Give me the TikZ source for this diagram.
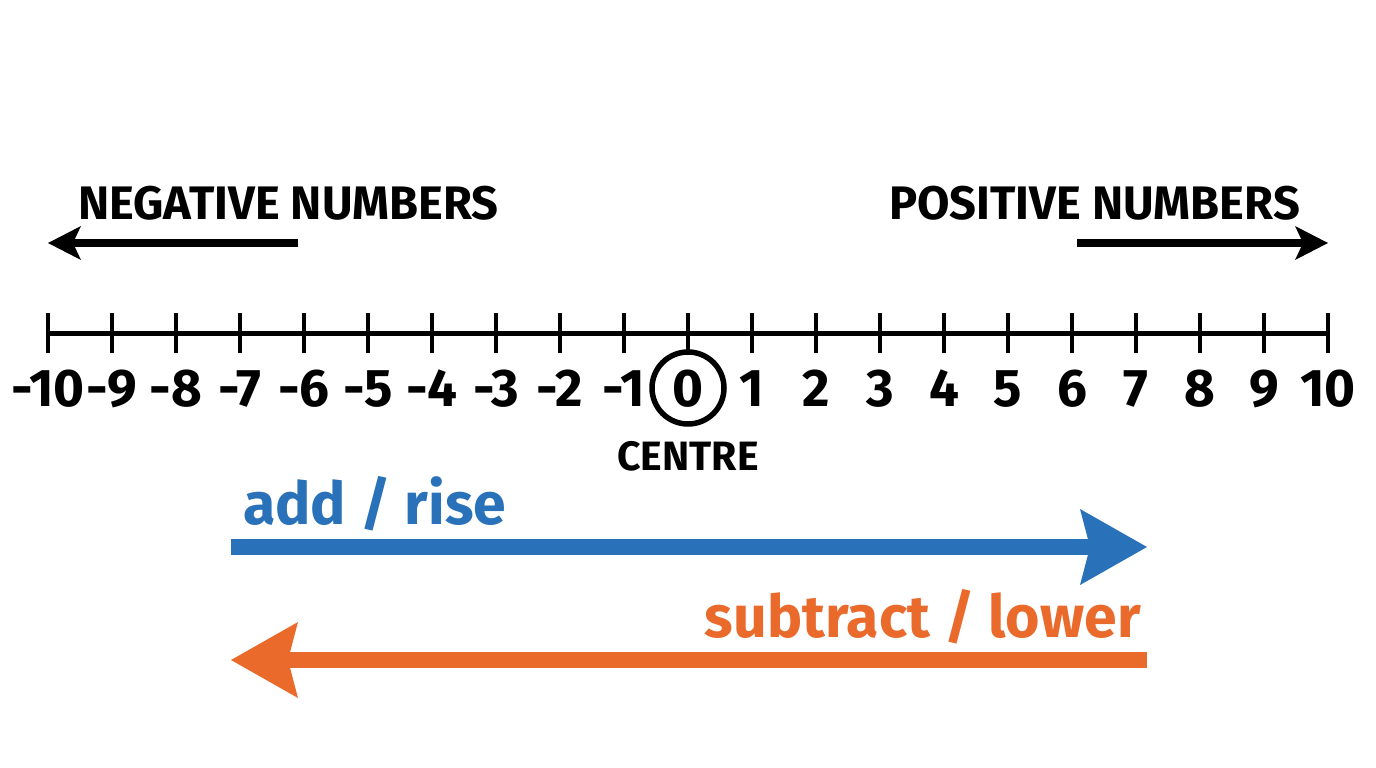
\documentclass[tikz,border=0pt]{standalone}
\usepackage{fontspec}
\setmainfont{Fira Sans}
\usepackage{tikz}
\usetikzlibrary{arrows.meta,positioning,calc}
\definecolor{addblue}{RGB}{41,113,184}
\definecolor{suborange}{RGB}{234,106,44}
\tikzstyle{axis}=[line width=5pt]
\tikzstyle{tick}=[line width=4pt]
\tikzstyle{numlabel}=[anchor=base,inner sep=0pt,font=\fontsize{53}{63}\selectfont\bfseries]
\tikzstyle{ring}=[draw,circle,line width=5.5pt,minimum size=72pt,inner sep=0pt]
\tikzstyle{headlabel}=[anchor=base,inner sep=0pt,font=\fontsize{47}{56}\selectfont\bfseries]
\tikzstyle{centrelabel}=[anchor=base,inner sep=0pt,font=\fontsize{41}{48}\selectfont\bfseries]
\tikzstyle{sidearrow}=[line width=8pt,-{Stealth[length=33pt,width=34pt,inset=8pt,line width=0pt]}]
\tikzstyle{bigarrow}=[line width=16pt,-{Stealth[length=67pt,width=76pt,inset=10pt,line width=0pt]}]
\tikzstyle{colourlabel}=[inner sep=0pt,font=\fontsize{59}{70}\selectfont\bfseries]

\begin{document}
\begin{tikzpicture}[x=1pt,y=-1pt]
    \useasboundingbox (0,0) rectangle (1376,768);
    % number line
    \coordinate (lineleft) at (48,333);
    \coordinate (lineright) at (1328,333);
    \draw [axis] (lineleft) -- (lineright);
    \foreach \n in {-10,...,10} {
      \coordinate (tickup\n) at ({688+64*(\n)},313);
      \coordinate (tickdown\n) at ({688+64*(\n)},353);
      \draw [tick] (tickup\n) -- (tickdown\n);
      \node [numlabel] (num\n) at ({688+64*(\n)},406) {\n};
    }
    \node [ring] (ring) at (688,388) {};
    \node [centrelabel] (centre) at (688,470) {CENTRE};
    % direction headings
    \node [headlabel] (neglabel) at (288.5,219) {NEGATIVE NUMBERS};
    \node [headlabel] (poslabel) at (1094.5,219) {POSITIVE NUMBERS};
    \coordinate (negstart) at (298,243);
    \coordinate (negend) at (48,243);
    \draw [sidearrow] (negstart) -- (negend);
    \coordinate (posstart) at (1077,243);
    \coordinate (posend) at (1328,243);
    \draw [sidearrow] (posstart) -- (posend);
    % add and subtract
    \node [colourlabel,anchor=base west,text=addblue] (addlabel) at (243,524) {add / rise};
    \coordinate (addstart) at (231,547);
    \coordinate (addend) at (1147,547);
    \draw [bigarrow,addblue] (addstart) -- (addend);
    \node [colourlabel,anchor=base east,text=suborange] (sublabel) at (1141,637) {subtract / lower};
    \coordinate (substart) at (1147,660);
    \coordinate (subend) at (231,660);
    \draw [bigarrow,suborange] (substart) -- (subend);
\end{tikzpicture}
\end{document}
